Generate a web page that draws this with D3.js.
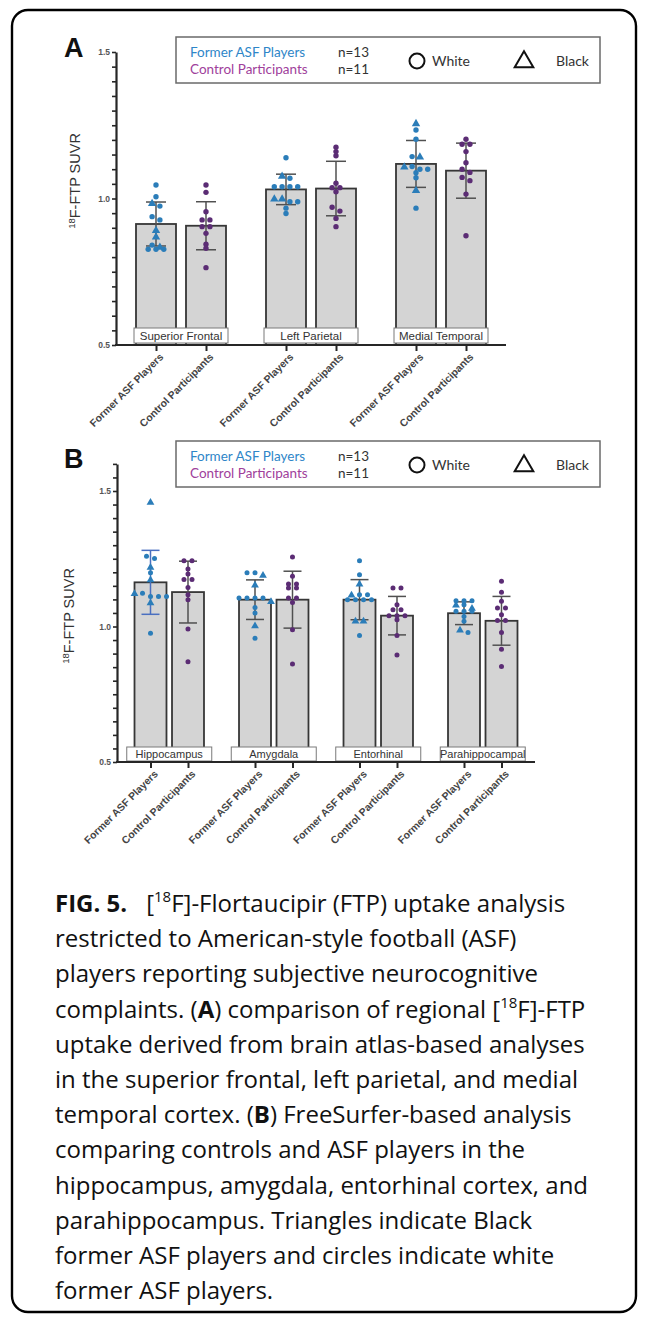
<!DOCTYPE html>
<html><head><meta charset="utf-8">
<script src="https://cdn.jsdelivr.net/npm/d3@7"></script>
<style>body{margin:0;background:#fff}svg{display:block}</style>
</head><body>
<svg id="c" width="648" height="1317"></svg>
<script>
// ---------------- DATA ----------------
const groupNames = ["Former ASF Players", "Control Participants"];
const groupN = ["n=13", "n=11"];
const raceNames = ["White", "Black"];
const yMajorTicks = [0.5, 1.0, 1.5];
const yLabelMain = "F-FTP SUVR";
const yLabelSup = "18";

// Panel A
const regionsA = ["Superior Frontal", "Left Parietal", "Medial Temporal"];
const meanA = [[0.913, 0.907], [1.031, 1.034], [1.118, 1.095]];
const sdA   = [[0.075, 0.082], [0.052, 0.093], [0.080, 0.094]];
const formerA = [
  [1.046, 1.006, 0.984, 0.974, 0.938, 0.927, 0.892, 0.870, 0.841, 0.835, 0.827, 0.827, 0.827],
  [1.139, 1.077, 1.069, 1.040, 1.040, 1.040, 1.040, 1.000, 1.000, 0.989, 0.989, 0.967, 0.949],
  [1.257, 1.234, 1.202, 1.143, 1.143, 1.109, 1.109, 1.100, 1.100, 1.088, 1.071, 1.029, 0.967]
];
const formerRaceA = [
  ["W","W","B","W","W","W","B","B","W","B","W","W","W"],
  ["W","B","W","W","W","W","W","B","B","W","W","W","W"],
  ["B","W","W","W","B","B","W","W","W","W","W","B","W"]
];
const controlA = [
  [1.046, 1.021, 0.955, 0.927, 0.927, 0.904, 0.904, 0.881, 0.844, 0.830, 0.764],
  [1.175, 1.160, 1.146, 1.052, 1.037, 1.037, 1.023, 0.970, 0.957, 0.932, 0.904],
  [1.202, 1.185, 1.185, 1.160, 1.122, 1.100, 1.089, 1.072, 1.061, 1.015, 0.873]
];

// Panel B
const regionsB = ["Hippocampus", "Amygdala", "Entorhinal", "Parahippocampal"];
const meanB = [[1.163, 1.127], [1.099, 1.099], [1.099, 1.040], [1.049, 1.021]];
const sdB   = [[0.118, 0.114], [0.073, 0.105], [0.074, 0.071], [0.042, 0.090]];
const formerB = [
  [1.459, 1.259, 1.251, 1.220, 1.198, 1.173, 1.123, 1.123, 1.111, 1.111, 1.111, 1.089, 0.975],
  [1.198, 1.198, 1.190, 1.154, 1.105, 1.105, 1.105, 1.105, 1.093, 1.070, 1.050, 1.004, 0.957],
  [1.243, 1.191, 1.158, 1.117, 1.117, 1.117, 1.099, 1.099, 1.099, 1.099, 1.021, 1.021, 0.967],
  [1.095, 1.095, 1.095, 1.080, 1.080, 1.068, 1.056, 1.056, 1.056, 1.037, 1.019, 0.988, 0.978]
];
const formerRaceB = [
  ["B","W","W","B","W","B","B","W","W","W","W","B","W"],
  ["W","W","B","B","W","W","W","W","B","W","W","B","W"],
  ["W","W","B","B","W","W","W","W","W","W","B","B","W"],
  ["W","W","W","B","W","B","W","W","W","W","W","B","W"]
];
const controlB = [
  [1.243, 1.243, 1.212, 1.194, 1.173, 1.173, 1.144, 1.117, 1.099, 0.991, 0.870],
  [1.256, 1.185, 1.157, 1.157, 1.142, 1.142, 1.105, 1.105, 1.089, 0.988, 0.862],
  [1.142, 1.142, 1.080, 1.062, 1.062, 1.040, 1.040, 1.040, 1.025, 0.967, 0.895],
  [1.167, 1.126, 1.093, 1.068, 1.068, 1.043, 1.022, 1.022, 0.978, 0.916, 0.852]
];

// Caption (each line is a list of runs)
const captionLines = [
  [{t:"FIG. 5.", b:1}, {t:"[", dx:19}, {t:"18", sup:1}, {t:"F]-Flortaucipir (FTP) uptake analysis"}],
  [{t:"restricted to American-style football (ASF)"}],
  [{t:"players reporting subjective neurocognitive"}],
  [{t:"complaints. ("}, {t:"A", b:1}, {t:") comparison of regional ["}, {t:"18", sup:1}, {t:"F]-FTP"}],
  [{t:"uptake derived from brain atlas-based analyses"}],
  [{t:"in the superior frontal, left parietal, and medial"}],
  [{t:"temporal cortex. ("}, {t:"B", b:1}, {t:") FreeSurfer-based analysis"}],
  [{t:"comparing controls and ASF players in the"}],
  [{t:"hippocampus, amygdala, entorhinal cortex, and"}],
  [{t:"parahippocampus. Triangles indicate Black"}],
  [{t:"former ASF players and circles indicate white"}],
  [{t:"former ASF players."}]
];

// ---------------- STYLE ----------------
const C = {
  blue: "#2b7db9", purple: "#5b2c74",
  legBlue: "#2e86c8", legMag: "#a0409b",
  barFill: "#d4d4d4", barStroke: "#363636",
  err: "#505050", errHi: "#4a6fc0", axis: "#262626", text: "#333"
};
const FONT = "Liberation Sans, Arial, sans-serif";

const svg = d3.select("#c");
svg.append("rect").attr("x", 12).attr("y", 10).attr("width", 624).attr("height", 1302)
  .attr("rx", 16).attr("fill", "#fff").attr("stroke", "#000").attr("stroke-width", 2.4);

function swarm(vals, y, step, th) {
  const idx = vals.map((v, i) => i).sort((a, b) => vals[b] - vals[a]);
  const off = new Array(vals.length).fill(0);
  let i = 0;
  while (i < idx.length) {
    let j = i + 1;
    const y0 = y(vals[idx[i]]);
    while (j < idx.length && Math.abs(y(vals[idx[j]]) - y0) < th) j++;
    const n = j - i;
    for (let k = 0; k < n; k++) off[idx[i + k]] = (k - (n - 1) / 2) * step;
    i = j;
  }
  return off;
}

function panel(cfg) {
  const g = svg.append("g");
  const x = d3.scaleBand().domain(cfg.regions).range([cfg.x0, cfg.x1]).paddingInner(0).paddingOuter(0);
  const xi = d3.scaleBand().domain(groupNames).range([0, x.bandwidth()])
    .paddingInner(cfg.pi).paddingOuter(cfg.po);
  const y = d3.scaleLinear().domain([0.5, cfg.yMax]).range([cfg.yBase, cfg.yTopPx]);
  const bw = xi.bandwidth();

  const bars = [];
  cfg.regions.forEach((r, ri) => groupNames.forEach((gn, gi) => {
    bars.push({r, ri, gn, gi, mean: cfg.mean[ri][gi], sd: cfg.sd[ri][gi],
      vals: gi === 0 ? cfg.former[ri] : cfg.control[ri],
      race: gi === 0 ? cfg.formerRace[ri] : null,
      cx: x(r) + xi(gn) + bw / 2});
  }));

  // bars
  g.selectAll("rect.bar").data(bars).join("rect").attr("class", "bar")
    .attr("x", d => x(d.r) + xi(d.gn)).attr("width", bw)
    .attr("y", d => y(d.mean)).attr("height", d => y(0.5) - y(d.mean))
    .attr("fill", C.barFill).attr("stroke", C.barStroke).attr("stroke-width", 1.8);

  // error bars
  const eg = g.selectAll("g.err").data(bars).join("g").attr("class", "err")
    .attr("stroke", d => (cfg.hi && cfg.hi[0] === d.ri && cfg.hi[1] === d.gi) ? C.errHi : C.err)
    .attr("stroke-width", 1.5);
  eg.append("line").attr("x1", d => d.cx).attr("x2", d => d.cx)
    .attr("y1", d => y(d.mean + d.sd)).attr("y2", d => y(d.mean - d.sd));
  eg.append("line").attr("x1", d => d.cx - cfg.cap / 2).attr("x2", d => d.cx + cfg.cap / 2)
    .attr("y1", d => y(d.mean + d.sd)).attr("y2", d => y(d.mean + d.sd));
  eg.append("line").attr("x1", d => d.cx - cfg.cap / 2).attr("x2", d => d.cx + cfg.cap / 2)
    .attr("y1", d => y(d.mean - d.sd)).attr("y2", d => y(d.mean - d.sd));

  // points
  const tri = d3.symbol(d3.symbolTriangle).size(cfg.r * cfg.r * 4.2);
  bars.forEach(b => {
    const off = swarm(b.vals, y, cfg.step, cfg.th);
    const pts = b.vals.map((v, i) => ({v, dx: off[i], race: b.race ? b.race[i] : "W"}));
    const col = b.gi === 0 ? C.blue : C.purple;
    g.selectAll(null).data(pts.filter(p => p.race === "W")).join("circle")
      .attr("cx", p => b.cx + p.dx).attr("cy", p => y(p.v)).attr("r", cfg.r).attr("fill", col);
    g.selectAll(null).data(pts.filter(p => p.race === "B")).join("path")
      .attr("d", tri).attr("transform", p => `translate(${b.cx + p.dx},${y(p.v) + 0.5})`).attr("fill", col);
  });

  // category label boxes
  const lb = g.selectAll("g.lb").data(cfg.regions).join("g").attr("class", "lb");
  lb.append("rect").attr("x", d => x(d) + x.bandwidth() / 2 - cfg.boxW / 2).attr("y", cfg.boxY)
    .attr("width", cfg.boxW).attr("height", cfg.boxH).attr("fill", "#fff")
    .attr("stroke", "#7a7a7a").attr("stroke-width", 1);
  lb.append("text").attr("x", d => x(d) + x.bandwidth() / 2).attr("y", cfg.boxY + cfg.boxH / 2 + 4)
    .attr("text-anchor", "middle").attr("font-family", FONT).attr("font-size", cfg.boxFont)
    .attr("fill", "#333").text(d => d);

  // y axis
  const minor = d3.range(10, Math.round(cfg.yMax * 20) + 1).map(k => k / 20);
  const ya = g.append("g").attr("transform", `translate(${cfg.x0},0)`)
    .call(d3.axisLeft(y).tickValues(minor).tickSize(4).tickSizeOuter(0).tickPadding(2)
      .tickFormat(d => yMajorTicks.some(m => Math.abs(m - d) < 1e-6) ? d3.format(".1f")(d) : ""));
  ya.select(".domain").attr("stroke", C.axis).attr("stroke-width", 2.2);
  ya.selectAll(".tick line").attr("stroke", C.axis).attr("stroke-width", 1.6);
  ya.selectAll(".tick text").attr("font-family", FONT).attr("font-size", 8.5)
    .attr("font-weight", "bold").attr("fill", "#555");

  // x axis
  const keys = bars.map(b => b.r + "|" + b.gn);
  const xo = d3.scaleOrdinal().domain(keys).range(bars.map(b => b.cx));
  const xa = g.append("g").attr("transform", `translate(0,${y(0.5)})`)
    .call(d3.axisBottom(xo).tickSize(6).tickSizeOuter(0).tickFormat(k => k.split("|")[1]));
  xa.select(".domain").remove();
  xa.append("line").attr("x1", cfg.x0 - 1).attr("x2", cfg.x1).attr("stroke", C.axis).attr("stroke-width", 2.2);
  xa.selectAll(".tick line").attr("stroke", C.axis).attr("stroke-width", 2);
  xa.selectAll(".tick text").attr("font-family", FONT).attr("font-size", 10.4).attr("font-weight", "bold")
    .attr("fill", "#444").attr("text-anchor", "end")
    .attr("transform", "translate(5,10) rotate(-45)").attr("dy", "0.35em").attr("y", 0).attr("x", 0);

  // y label
  const yl = g.append("text").attr("transform", `translate(${cfg.yLabelX},${cfg.yLabelY}) rotate(-90)`)
    .attr("text-anchor", "middle").attr("font-family", FONT).attr("font-size", 14.5).attr("fill", C.text);
  yl.append("tspan").attr("font-size", 9.5).attr("dy", -5).text(yLabelSup);
  yl.append("tspan").attr("dy", 5).text(yLabelMain);

  // panel letter
  g.append("text").attr("x", 64).attr("y", cfg.letterY).attr("font-family", FONT)
    .attr("font-weight", "bold").attr("font-size", 27).attr("fill", "#111").text(cfg.letter);

  // legend
  const L = g.append("g").attr("transform", `translate(176,${cfg.legY})`);
  L.append("rect").attr("width", 424).attr("height", 46).attr("fill", "#fff")
    .attr("stroke", "#6a6a6a").attr("stroke-width", 1.5);
  const lf = "Lato, Open Sans, sans-serif";
  groupNames.forEach((n, i) => {
    L.append("text").attr("x", 14).attr("y", 20 + i * 17).attr("font-family", lf).attr("font-size", 13.5)
      .attr("fill", i === 0 ? C.legBlue : C.legMag).text(n);
    L.append("text").attr("x", 162).attr("y", 20 + i * 17).attr("font-family", lf).attr("font-size", 13.5)
      .attr("fill", "#333").text(groupN[i]);
  });
  L.append("circle").attr("cx", 241).attr("cy", 24).attr("r", 7.5).attr("fill", "none")
    .attr("stroke", "#111").attr("stroke-width", 2);
  L.append("text").attr("x", 256).attr("y", 29).attr("font-family", lf).attr("font-size", 14)
    .attr("fill", "#333").text(raceNames[0]);
  L.append("path").attr("d", d3.symbol(d3.symbolTriangle).size(150)).attr("transform", "translate(348,25)")
    .attr("fill", "none").attr("stroke", "#111").attr("stroke-width", 2);
  L.append("text").attr("x", 380).attr("y", 29).attr("font-family", lf).attr("font-size", 14)
    .attr("fill", "#333").text(raceNames[1]);
}

panel({letter: "A", letterY: 57, legY: 37, regions: regionsA, mean: meanA, sd: sdA,
  former: formerA, formerRace: formerRaceA, control: controlA,
  x0: 116, x1: 506, pi: 0.2, po: 0.4, yMax: 1.5, yBase: 345, yTopPx: 52,
  cap: 20, r: 2.7, step: 7.8, th: 4, boxW: 94, boxY: 328, boxH: 15, boxFont: 11.5,
  yLabelX: 80, yLabelY: 181});

panel({letter: "B", letterY: 468, legY: 441, regions: regionsB, mean: meanB, sd: sdB,
  former: formerB, formerRace: formerRaceB, control: controlB, hi: [0, 0],
  x0: 117, x1: 535, pi: 0.147, po: 0.467, yMax: 1.6, yBase: 762, yTopPx: 463.9,
  cap: 18, r: 2.5, step: 8, th: 4, boxW: 85, boxY: 747, boxH: 14, boxFont: 11,
  yLabelX: 74, yLabelY: 616});

// caption
const cap = svg.append("g").attr("font-family", "Open Sans, sans-serif").attr("font-size", 24).attr("fill", "#111");
captionLines.forEach((runs, li) => {
  const t = cap.append("text").attr("x", 55).attr("y", 912 + li * 35.2);
  let pendingUp = 0;
  runs.forEach(run => {
    const ts = t.append("tspan").text(run.t);
    if (run.b) ts.attr("font-weight", "bold");
    if (run.dx) ts.attr("dx", run.dx);
    if (run.sup) { ts.attr("font-size", 15).attr("dy", -10); pendingUp = 10; }
    else if (pendingUp) { ts.attr("dy", pendingUp); pendingUp = 0; }
  });
});
</script>
</body></html>
